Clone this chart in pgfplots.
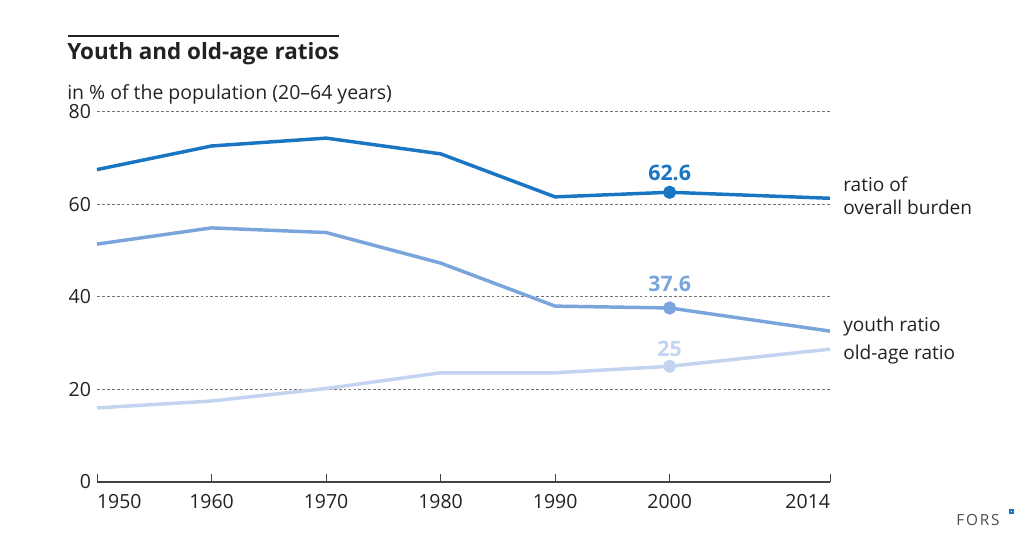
\documentclass[border=0pt]{standalone}
\usepackage{fontspec}
\setmainfont{Open Sans}
\usepackage{pgfplots}
\pgfplotsset{compat=1.18}

\definecolor{overall}{HTML}{1A75C3}
\definecolor{youth}{HTML}{79A5DC}
\definecolor{oldage}{HTML}{C2D4EF}
\definecolor{txt}{HTML}{222222}

% pixel position -> picture coordinates (1 px = 0.75pt, y from top)
\newcommand\px[2]{({#1*0.75pt},{(546-#2)*0.75pt})}

\begin{document}
\begin{tikzpicture}
\path \px{0}{546} rectangle \px{1035}{0};

% title block
\draw[txt, line width=1.7pt] \px{68}{36} -- \px{339}{36};
\node[anchor=base west, inner sep=0, text=txt, font=\fontsize{16.8}{19}\selectfont\bfseries]
  at \px{67}{60} {Youth and old-age ratios};
\node[anchor=base west, inner sep=0, text=txt, font=\fontsize{14.6}{17}\selectfont]
  at \px{67}{100} {in \% of the population (20–64 years)};

\begin{axis}[
    at={(72.75pt,48pt)}, anchor=south west,
    scale only axis,
    width=549.75pt, height=277.7pt,
    xmin=1950, xmax=2014,
    ymin=0, ymax=80,
    axis x line=bottom,
    axis y line=left,
    y axis line style={draw=none},
    x axis line style={-, draw=txt!85, line width=0.9pt},
    xtick={1950,1960,1970,1980,1990,2000,2014},
    xticklabels={\rlap{1950},1960,1970,1980,1990,2000,\llap{2014}},
    ytick={0,20,40,60,80},
    tick align=inside,
    xtick style={draw=txt!85, line width=0.6pt},
    major tick length=6pt,
    ytick style={draw=none},
    ymajorgrids=true,
    grid style={dash pattern=on 2.1pt off 1.6pt, draw=black!55, line width=0.9pt},
    tick label style={text=txt, font=\fontsize{14.6}{17}\selectfont},
    xticklabel style={anchor=north, yshift=-6pt},
    yticklabel style={anchor=east, xshift=-1pt},
    /pgf/number format/assume math mode=true,
    /pgf/number format/1000 sep={},
    clip=false,
]
\addplot[overall, line width=2.6pt, mark=*, mark indices={6}, mark size=3.6pt]
  coordinates {(1950,67.5) (1960,72.6) (1970,74.3) (1980,70.9) (1990,61.6) (2000,62.6) (2014,61.3)};
\addplot[youth, line width=2.6pt, mark=*, mark indices={6}, mark size=3.6pt]
  coordinates {(1950,51.4) (1960,54.9) (1970,53.9) (1980,47.3) (1990,38.0) (2000,37.6) (2014,32.6)};
\addplot[oldage, line width=2.6pt, mark=*, mark indices={6}, mark size=3.6pt]
  coordinates {(1950,16.0) (1960,17.5) (1970,20.2) (1980,23.6) (1990,23.6) (2000,25.0) (2014,28.7)};

\node[anchor=base, inner sep=0, text=overall, font=\fontsize{16}{19}\selectfont\bfseries]
  at (axis cs:2000,62.6) [yshift=8.5pt] {62.6};
\node[anchor=base, inner sep=0, text=youth, font=\fontsize{16}{19}\selectfont\bfseries]
  at (axis cs:2000,37.6) [yshift=12.5pt] {37.6};
\node[anchor=base, inner sep=0, text=oldage, font=\fontsize{16}{19}\selectfont\bfseries]
  at (axis cs:2000,25) [yshift=7.5pt] {25};
\end{axis}

% series labels
\begin{scope}[every node/.style={anchor=base west, inner sep=0, text=txt, font=\fontsize{14.3}{17}\selectfont}]
\node at \px{843}{192} {ratio of};
\node at \px{843}{215} {overall burden};
\node at \px{843}{332} {youth ratio};
\node at \px{843}{360} {old-age ratio};
\end{scope}

% logo
\node[anchor=base west, inner sep=0, text=black!70, font=\fontsize{11.5}{13}\selectfont\addfontfeatures{LetterSpace=12}]
  at \px{956}{526} {FORS};
\fill[overall] \px{1009}{514} rectangle \px{1014}{509};
\fill[white] \px{1010.8}{512.2} rectangle \px{1012.2}{510.8};
\end{tikzpicture}
\end{document}
